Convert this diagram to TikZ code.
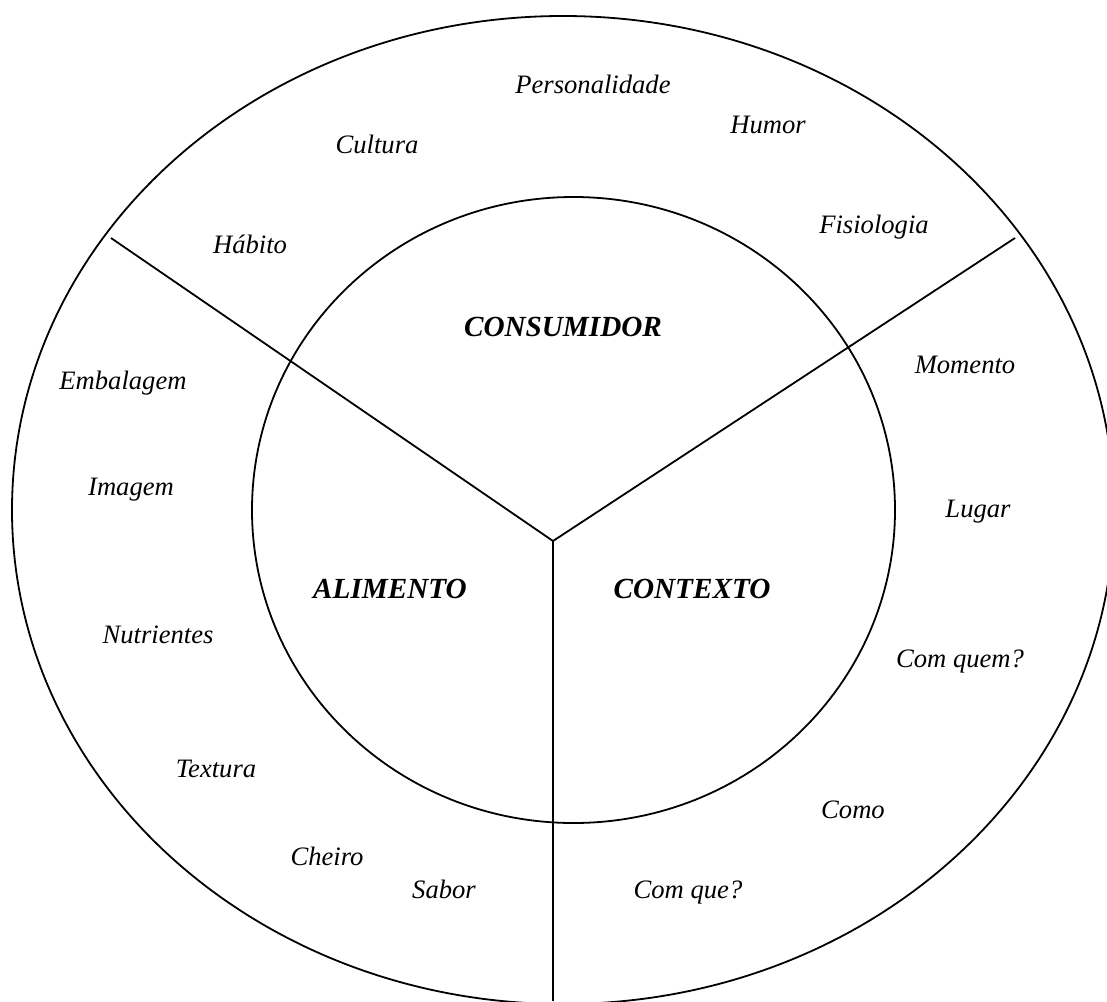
\documentclass[tikz,border=0pt]{standalone}
\usepackage{fontspec}
\setmainfont{Liberation Serif}
\tikzset{
  ringword/.style={font=\fontsize{13.3}{16}\selectfont\itshape, anchor=base, inner sep=0pt},
  coreword/.style={font=\fontsize{14.6}{17}\selectfont\bfseries\itshape, anchor=base, inner sep=0pt},
  ringline/.style={line width=0.9pt}
}

\begin{document}
\begin{tikzpicture}[x=0.5pt, y=-0.5pt]
\useasboundingbox (0,0) rectangle (1107,1001);
\clip (0,0) rectangle (1107,1001);
\draw[ringline] (563,510) ellipse [x radius=551, y radius=494];
\draw[ringline] (573.5,510) ellipse [x radius=321.5, y radius=313];
\coordinate (hub) at (553,541);
\coordinate (cutL) at (111,238);
\coordinate (cutR) at (1015,238);
\coordinate (cutB) at (553,1001);
\draw[ringline] (hub) -- (cutL);
\draw[ringline] (hub) -- (cutR);
\draw[ringline] (hub) -- (cutB);
\node[coreword] (cons) at (563,336) {CONSUMIDOR};
\node[coreword] (alim) at (390,598) {ALIMENTO};
\node[coreword] (ctx) at (692,598) {CONTEXTO};
\node[ringword] (pers) at (593,93) {Personalidade};
\node[ringword] (humor) at (768,133) {Humor};
\node[ringword] (cult) at (377,153) {Cultura};
\node[ringword] (fisio) at (874,233) {Fisiologia};
\node[ringword] (habito) at (250,253) {Hábito};
\node[ringword] (momento) at (965,373) {Momento};
\node[ringword] (lugar) at (978,517) {Lugar};
\node[ringword] (comquem) at (960,667) {Com quem?};
\node[ringword] (como) at (853,818) {Como};
\node[ringword] (comque) at (688,898) {Com que?};
\node[ringword] (embal) at (123,389) {Embalagem};
\node[ringword] (imagem) at (131,495) {Imagem};
\node[ringword] (nutri) at (158,643) {Nutrientes};
\node[ringword] (textura) at (216,777) {Textura};
\node[ringword] (cheiro) at (327,865) {Cheiro};
\node[ringword] (sabor) at (444,898) {Sabor};
\end{tikzpicture}
\end{document}
